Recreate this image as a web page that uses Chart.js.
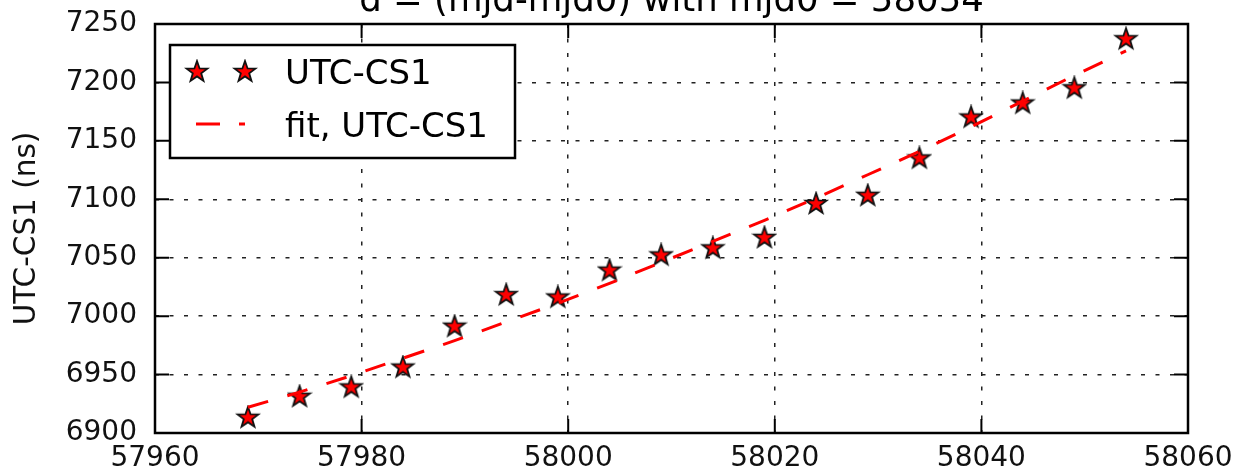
<!DOCTYPE html>
<html>
<head>
<meta charset="utf-8">
<script src="https://cdn.jsdelivr.net/npm/chart.js@4.4.0/dist/chart.umd.min.js"></script>
<style>
  html, body { margin: 0; padding: 0; background: #fff; overflow: hidden; }
</style>
</head>
<body>
<canvas id="chart" width="1235" height="470"></canvas>
<script>
// values
const mjd = [57969, 57974, 57979, 57984, 57989, 57994, 57999, 58004, 58009,
             58014, 58019, 58024, 58029, 58034, 58039, 58044, 58049, 58054];
const utcCs1 = [6913, 6931, 6939, 6956, 6991, 7018, 7016, 7039, 7052,
                7058, 7067, 7096, 7103, 7135, 7170, 7182, 7195, 7237];
const fitCs1 = [6922, 6935, 6949, 6964, 6979, 6995, 7011, 7028, 7046,
                7064, 7082, 7101, 7121, 7141, 7162, 7184, 7206, 7227];
const xTicks = [57960, 57980, 58000, 58020, 58040, 58060];
const yTicks = [6900, 6950, 7000, 7050, 7100, 7150, 7200, 7250];
const titleText = 'd = (mjd-mjd0) with mjd0 = 58054';
const seriesLabel = 'UTC-CS1';
const fitLabel = 'fit, UTC-CS1';

const FONT = '"DejaVu Sans", sans-serif';

// red star marker with dark edge (matplotlib '*')
function makeStar(r) {
  const c = document.createElement('canvas');
  const s = Math.ceil(r * 2 + 4);
  c.width = s; c.height = s;
  const g = c.getContext('2d');
  g.beginPath();
  for (let i = 0; i < 10; i++) {
    const rad = i % 2 === 0 ? r : r * 0.40;
    const ang = -Math.PI / 2 + i * Math.PI / 5;
    const px = s / 2 + rad * Math.cos(ang);
    const py = s / 2 + rad * Math.sin(ang);
    if (i === 0) g.moveTo(px, py); else g.lineTo(px, py);
  }
  g.closePath();
  g.fillStyle = '#ff0000';
  g.fill();
  g.lineWidth = 1.8;
  g.strokeStyle = '#111';
  g.stroke();
  return c;
}
const starImg = makeStar(11);

// box, inward ticks and cut-off title
const frame = {
  id: 'frame',
  afterDraw(chart) {
    const { ctx, chartArea: a, scales: { x, y } } = chart;
    ctx.save();
    ctx.strokeStyle = '#000';
    ctx.lineWidth = 2;
    ctx.beginPath();
    xTicks.forEach(v => {
      const px = x.getPixelForValue(v);
      ctx.moveTo(px, a.bottom); ctx.lineTo(px, a.bottom - 14);
      ctx.moveTo(px, a.top); ctx.lineTo(px, a.top + 14);
    });
    yTicks.forEach(v => {
      const py = y.getPixelForValue(v);
      ctx.moveTo(a.left, py); ctx.lineTo(a.left + 14, py);
      ctx.moveTo(a.right, py); ctx.lineTo(a.right - 14, py);
    });
    ctx.stroke();
    ctx.lineWidth = 2.5;
    ctx.strokeRect(a.left, a.top, a.right - a.left, a.bottom - a.top);

    ctx.fillStyle = '#000';
    ctx.font = '35.5px ' + FONT;
    ctx.textAlign = 'center';
    ctx.textBaseline = 'alphabetic';
    ctx.fillText(titleText, (a.left + a.right) / 2, 11);
    ctx.restore();
  }
};

// matplotlib style legend box, upper left
const boxLegend = {
  id: 'boxLegend',
  afterDraw(chart) {
    const ctx = chart.ctx;
    const ds = chart.data.datasets;
    ctx.save();
    ctx.fillStyle = '#fff';
    ctx.fillRect(170, 45, 345, 113);
    ctx.strokeStyle = '#000';
    ctx.lineWidth = 2.5;
    ctx.strokeRect(170, 45, 345, 113);

    ctx.drawImage(starImg, 197 - starImg.width / 2, 72 - starImg.height / 2);
    ctx.drawImage(starImg, 245 - starImg.width / 2, 72 - starImg.height / 2);

    ctx.strokeStyle = ds[1].borderColor;
    ctx.lineWidth = ds[1].borderWidth;
    ctx.setLineDash([24, 19]);
    ctx.beginPath();
    ctx.moveTo(196, 124); ctx.lineTo(245, 124);
    ctx.stroke();
    ctx.setLineDash([]);

    ctx.fillStyle = '#000';
    ctx.font = '34px ' + FONT;
    ctx.textAlign = 'left';
    ctx.textBaseline = 'alphabetic';
    ctx.fillText(ds[0].label, 285, 84);
    ctx.fillText(ds[1].label, 285, 137);
    ctx.restore();
  }
};

new Chart(document.getElementById('chart'), {
  type: 'scatter',
  data: {
    datasets: [
      {
        label: seriesLabel,
        data: mjd.map((m, i) => ({ x: m, y: utcCs1[i] })),
        showLine: false,
        pointStyle: starImg,
        pointRadius: 11,
        backgroundColor: '#ff0000',
        order: 1,
        clip: false
      },
      {
        label: fitLabel,
        data: mjd.map((m, i) => ({ x: m, y: fitCs1[i] })),
        showLine: true,
        borderColor: '#ff0000',
        borderWidth: 3,
        borderDash: [21, 20],
        borderCapStyle: 'butt',
        pointRadius: 0,
        tension: 0,
        order: 0
      }
    ]
  },
  options: {
    responsive: false,
    animation: false,
    devicePixelRatio: 1,
    layout: { padding: { top: 24, right: 47, bottom: 0, left: 0 } },
    plugins: {
      legend: { display: false },
      tooltip: { enabled: false },
      title: { display: false }
    },
    scales: {
      x: {
        type: 'linear',
        min: 57960,
        max: 58060,
        afterBuildTicks: s => { s.ticks = xTicks.map(v => ({ value: v })); },
        afterFit: s => { s.height = 37; s.paddingLeft = 0; s.paddingRight = 0; },
        grid: { color: '#222', lineWidth: 1.5, drawTicks: false },
        border: { display: false, dash: [4, 10.5] },
        ticks: {
          color: '#111',
          font: { family: FONT, size: 28 },
          padding: 9,
          maxRotation: 0,
          callback: v => String(v)
        }
      },
      y: {
        type: 'linear',
        min: 6900,
        max: 7250,
        afterBuildTicks: s => { s.ticks = yTicks.map(v => ({ value: v })); },
        afterFit: s => { s.width = 155; s.paddingTop = 0; s.paddingBottom = 0; },
        grid: { color: '#222', lineWidth: 1.5, drawTicks: false },
        border: { display: false, dash: [4, 10.5] },
        title: {
          display: true,
          text: 'UTC-CS1 (ns)',
          color: '#111',
          font: { family: FONT, size: 29.5 },
          padding: { top: 10, bottom: 0 }
        },
        ticks: {
          color: '#111',
          font: { family: FONT, size: 28 },
          padding: 18,
          callback: v => String(v)
        }
      }
    }
  },
  plugins: [frame, boxLegend]
});
</script>
</body>
</html>
